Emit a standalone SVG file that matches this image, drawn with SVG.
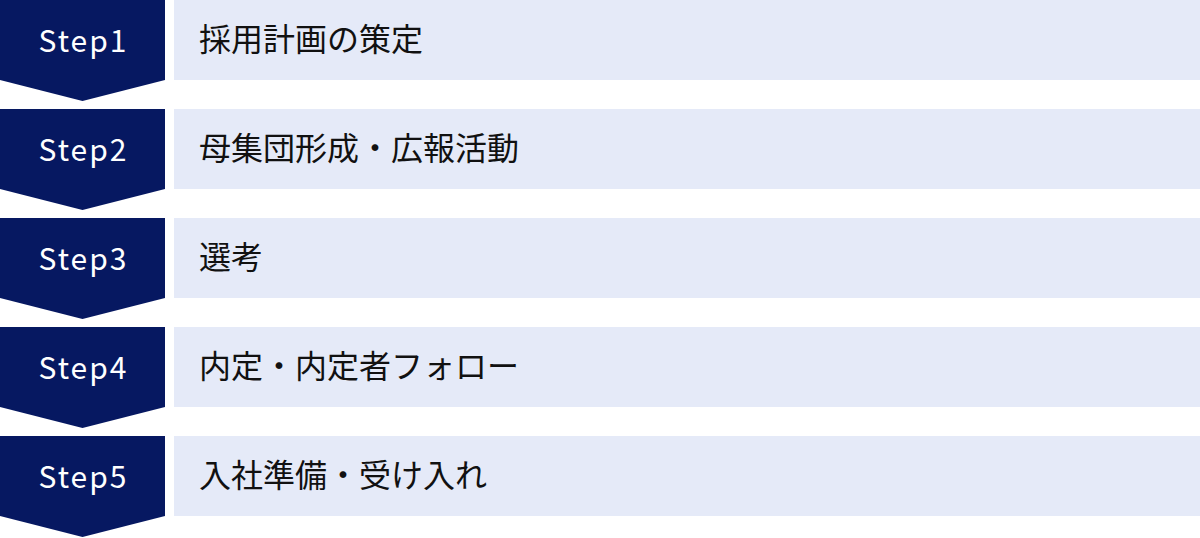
<svg xmlns="http://www.w3.org/2000/svg" width="1200" height="538" viewBox="0 0 1200 538">
<style>
.arrow{fill:#061861}
.box{fill:#e5eaf8}
.step{font-family:"Noto Sans CJK JP","Noto Sans",sans-serif;font-size:30px;letter-spacing:2px;fill:#ffffff;text-anchor:middle}
.label{font-family:"Noto Sans CJK JP","Noto Sans",sans-serif;font-size:32px;fill:#111111}
</style>
<defs>
<path id="chev" d="M0,0 H165 V80 L82.5,101 L0,80 Z"/>
</defs>
<rect width="1200" height="538" fill="#ffffff"/>
<g id="step1" transform="translate(0,0)">
<use href="#chev" class="arrow"/>
<rect class="box" x="174" y="0" width="1026" height="80"/>
<text class="step" x="83.5" y="52">Step1</text>
<text class="label" x="199" y="51">採用計画の策定</text>
</g>
<g id="step2" transform="translate(0,109)">
<use href="#chev" class="arrow"/>
<rect class="box" x="174" y="0" width="1026" height="80"/>
<text class="step" x="83.5" y="52">Step2</text>
<text class="label" x="199" y="51">母集団形成・広報活動</text>
</g>
<g id="step3" transform="translate(0,218)">
<use href="#chev" class="arrow"/>
<rect class="box" x="174" y="0" width="1026" height="80"/>
<text class="step" x="83.5" y="52">Step3</text>
<text class="label" x="199" y="51">選考</text>
</g>
<g id="step4" transform="translate(0,327)">
<use href="#chev" class="arrow"/>
<rect class="box" x="174" y="0" width="1026" height="80"/>
<text class="step" x="83.5" y="52">Step4</text>
<text class="label" x="199" y="51">内定・内定者フォロー</text>
</g>
<g id="step5" transform="translate(0,436)">
<use href="#chev" class="arrow"/>
<rect class="box" x="174" y="0" width="1026" height="80"/>
<text class="step" x="83.5" y="52">Step5</text>
<text class="label" x="199" y="51">入社準備・受け入れ</text>
</g>
<g id="connectors"></g>
</svg>
